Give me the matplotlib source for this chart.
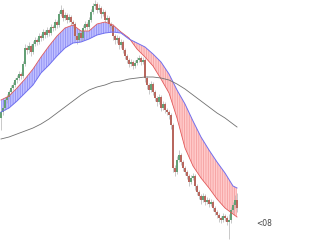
import numpy as np
from matplotlib import pyplot as plt

# daily bars (price index), open = previous close
closes = [128, 132, 140, 143, 148, 152, 155, 160, 162, 166, 164, 176, 192, 190, 194, 188, 196, 200, 198, 204,
          202, 208, 205, 210, 207, 213, 212, 218, 215, 226, 230, 222, 225, 220, 223, 218, 216, 204, 200, 207,
          202, 212, 216, 213, 220, 228, 234, 236, 230, 232, 226, 228, 220, 222, 216, 214, 204, 200, 202, 195,
          198, 190, 184, 180, 176, 178, 174, 177, 180, 182, 178, 180, 162, 155, 150, 156, 148, 142, 138, 143,
          132, 136, 130, 128, 125, 115, 72, 68, 80, 85, 78, 72, 68, 64, 58, 62, 64, 54, 48, 44,
          40, 44, 38, 40, 36, 38, 32, 28, 25, 22, 20, 24, 22, 18, 20, 30, 35, 40, 32]
highs = [131, 135, 142, 146, 150, 155, 158, 162, 165, 169, 168, 179, 196, 195, 198, 196, 199, 203, 202, 207,
         206, 211, 210, 213, 212, 216, 215, 221, 220, 229, 235, 232, 228, 227, 226, 225, 220, 218, 206, 210,
         209, 215, 219, 218, 223, 231, 237, 240, 238, 236, 234, 231, 230, 225, 224, 218, 216, 206, 205, 204,
         201, 200, 192, 186, 182, 181, 180, 180, 183, 185, 184, 183, 182, 164, 157, 159, 158, 150, 144, 146,
         145, 139, 138, 132, 130, 127, 117, 75, 84, 90, 87, 80, 74, 70, 66, 65, 67, 66, 56, 50,
         46, 47, 46, 43, 42, 41, 40, 34, 30, 27, 24, 27, 26, 24, 26, 33, 38, 45, 47]
lows = [110, 125, 130, 137, 141, 146, 150, 153, 157, 160, 161, 162, 174, 186, 187, 184, 186, 194, 195, 196,
        199, 200, 202, 203, 204, 205, 209, 210, 212, 213, 224, 219, 220, 217, 218, 215, 212, 200, 196, 198,
        199, 200, 210, 210, 211, 218, 226, 231, 227, 228, 222, 224, 217, 218, 213, 211, 200, 196, 197, 191,
        192, 187, 181, 177, 173, 174, 171, 172, 175, 178, 175, 176, 158, 151, 146, 148, 145, 139, 134, 136,
        129, 130, 127, 125, 121, 111, 68, 64, 66, 78, 75, 69, 65, 61, 54, 56, 60, 50, 45, 41,
        36, 38, 35, 36, 33, 34, 29, 25, 22, 18, 17, 18, 19, 15, 1, 17, 27, 32, 28]
opens = [122] + closes[:-1]

# moving averages, sampled every 4 bars
ma_idx = list(range(0, 117, 4)) + [118]
ma_fast = [140, 144, 152, 161, 171, 183, 194, 204, 212, 215, 209, 209, 216, 218, 215, 208, 202, 191, 183, 174,
           161, 147, 122, 92, 74, 62, 52, 41, 32, 26, 23]
ma_slow = [128, 132, 139, 147, 155, 167, 175, 184, 192, 197, 198, 201, 205, 207, 208, 207, 201, 197, 193, 186,
           178, 166, 150, 136, 119, 103, 90, 78, 67, 54, 52]
ma_long = [101, 103, 106, 109, 112, 116, 121, 127, 133, 139, 145, 150, 153, 155, 158, 159, 161, 162, 163, 163,
           162, 160, 156, 151, 145, 139, 133, 127, 122, 116, 113]

label = '<08'

fig = plt.figure(figsize=(3.2, 2.4), dpi=100)
ax = fig.add_axes([0, 0, 1, 1])
ax.axis('off')

x = np.arange(len(closes))
o = np.array(opens)
c = np.array(closes)
up = c >= o

# band between the two averages
mx = np.array(ma_idx)
f = np.array(ma_fast)
s = np.array(ma_slow)
plt.rcParams['hatch.linewidth'] = 0.6
ax.fill_between(mx, f, s, where=f >= s, interpolate=True, facecolor='#c0c0ff',
                edgecolor='#8f8ff5', hatch='|||||||', linewidth=0, zorder=1)
ax.fill_between(mx, f, s, where=f < s, interpolate=True, facecolor='#ffcaca',
                edgecolor='#f5a0a0', hatch='|||||||', linewidth=0, zorder=1)
ax.plot(mx, f, color='#e25a5a', lw=0.6, zorder=3)
ax.plot(mx, s, color='#7070f0', lw=0.7, zorder=3)
ax.plot(mx, ma_long, color='#707070', lw=0.6, zorder=3)

# candles
ax.vlines(x, lows, highs, color='#b4b4b4', lw=0.5, zorder=2)
ax.bar(x[up], (c - o)[up], bottom=o[up], width=0.65, color='#64a076', lw=0, zorder=2)
ax.bar(x[~up], (c - o)[~up], bottom=o[~up], width=0.65, color='#b8675e', lw=0, zorder=2)

ax.text(131.5, 17, label, fontsize=5.5, color='#444444', ha='center', va='center')

ax.set_xlim(-0.5, 159.5)
ax.set_ylim(0, 240)
fig.savefig('out.png', dpi=100)
